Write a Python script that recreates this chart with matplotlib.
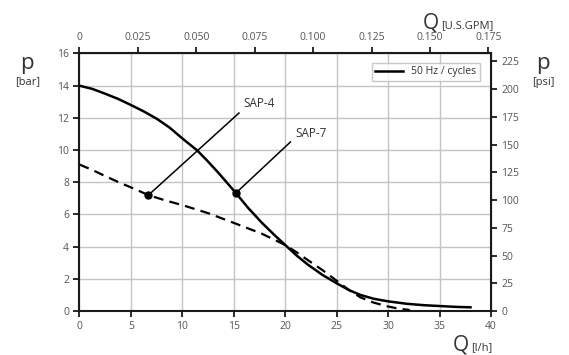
import numpy as np
import matplotlib
matplotlib.use("Agg")
from matplotlib import pyplot as plt

# pump curves (flow in l/h, pressure in bar)
q_solid = [0, 1.25, 2.5, 3.75, 5, 6.25, 7.5, 8.75, 10, 11.4, 12.4, 13.4, 14.3, 15.2,
           16.4, 17.7, 18.9, 20, 21.1, 22.2, 23.6, 25, 26.2, 27.3, 28.6, 30, 31.8,
           33.5, 35, 36.5, 38]
p_solid = [14.0, 13.8, 13.5, 13.18, 12.8, 12.4, 11.95, 11.4, 10.72, 10.0, 9.35, 8.66, 8.0, 7.33,
           6.4, 5.5, 4.75, 4.1, 3.45, 2.88, 2.25, 1.72, 1.3, 1.0, 0.76, 0.6, 0.45,
           0.36, 0.31, 0.26, 0.23]

q_dash = [0, 1.3, 2.6, 4, 5.3, 6.7, 8.3, 10, 12.5, 15.1, 17.7, 20, 21.1, 22.2,
          23.6, 25, 26.2, 27.3, 28.6, 30, 31, 32.1]
p_dash = [9.1, 8.75, 8.35, 7.95, 7.6, 7.2, 6.88, 6.58, 6.08, 5.45, 4.81, 4.1, 3.65, 3.16,
          2.55, 1.88, 1.3, 0.85, 0.52, 0.28, 0.15, 0.06]

# marked operating points
sap_names = ["SAP-4", "SAP-7"]
sap_q = [6.7, 15.2]
sap_p = [7.2, 7.33]

x_ticks = [0, 5, 10, 15, 20, 25, 30, 35, 40]
y_ticks = [0, 2, 4, 6, 8, 10, 12, 14, 16]
gpm_ticks = [0, 0.025, 0.05, 0.075, 0.1, 0.125, 0.15, 0.175]
gpm_labels = ["0", "0.025", "0.050", "0.075", "0.100", "0.125", "0.150", "0.175"]
psi_ticks = [0, 25, 50, 75, 100, 125, 150, 175, 200, 225]

LPH_PER_GPM = 227.125
PSI_PER_BAR = 14.5038

plt.rcParams['font.family'] = ['Open Sans', 'DejaVu Sans']
tick_col = '#555555'
dark = '#1a1a1a'
txt = '#333333'

fig = plt.figure(figsize=(5.69, 3.55), dpi=100)
ax = fig.add_axes([0.1397, 0.1239, 0.7233, 0.7254])

ax.plot(q_solid, p_solid, color='black', lw=1.8, label='50 Hz / cycles', zorder=3,
        solid_joinstyle='round')
ax.plot(q_dash, p_dash, color='black', lw=1.6, ls=(0, (4.5, 2.8)), zorder=3)

# leader lines to the labels
ax.plot(sap_q, sap_p, 'o', color='black', ms=5, zorder=4)
ax.plot([sap_q[0], 15.5], [sap_p[0], 12.3], color='black', lw=1.1, zorder=3)
ax.plot([sap_q[1], 20.5], [sap_p[1], 10.5], color='black', lw=1.1, zorder=3)
ax.text(15.9, 12.5, sap_names[0], fontsize=8.5, color=txt, ha='left', va='bottom')
ax.text(21.0, 10.6, sap_names[1], fontsize=8.5, color=txt, ha='left', va='bottom')

ax.set_xlim(0, 40)
ax.set_ylim(0, 16)
ax.set_xticks(x_ticks)
ax.set_yticks(y_ticks)
ax.grid(True, color='#c4c4c4', lw=1.0)
ax.set_axisbelow(True)
for s in ax.spines.values():
    s.set_color(dark)
    s.set_linewidth(1.5)
ax.tick_params(colors=dark, labelcolor=tick_col, labelsize=7.5, length=4, width=1.3)

top = ax.secondary_xaxis('top', functions=(lambda q: q / LPH_PER_GPM, lambda g: g * LPH_PER_GPM))
top.set_xticks(gpm_ticks)
top.set_xticklabels(gpm_labels)
top.tick_params(colors=dark, labelcolor=tick_col, labelsize=7.5, length=4, width=1.3)

right = ax.secondary_yaxis('right', functions=(lambda b: b * PSI_PER_BAR, lambda p: p / PSI_PER_BAR))
right.set_yticks(psi_ticks)
right.tick_params(colors=dark, labelcolor=tick_col, labelsize=7.5, length=4, width=1.3)

leg = ax.legend(loc='upper right', bbox_to_anchor=(0.985, 0.985), fontsize=7.5, frameon=True,
                fancybox=False, handlelength=2.6, borderpad=0.35, labelcolor=txt)
leg.get_frame().set_edgecolor('#bbbbbb')
leg.get_frame().set_linewidth(1.0)

# axis titles
fig.text(27 / 569, 1 - 64 / 355, 'p', fontsize=16, color=txt, ha='center', va='center')
fig.text(28 / 569, 1 - 82 / 355, '[bar]', fontsize=8, color=txt, ha='center', va='center')
fig.text(543 / 569, 1 - 64 / 355, 'p', fontsize=16, color=txt, ha='center', va='center')
fig.text(543 / 569, 1 - 82 / 355, '[psi]', fontsize=8, color=txt, ha='center', va='center')
fig.text(423 / 569, 1 - 28 / 355, 'Q', fontsize=15, color=txt, ha='left', va='baseline')
fig.text(441 / 569, 1 - 28 / 355, '[U.S.GPM]', fontsize=8, color=txt, ha='left', va='baseline')
fig.text(453 / 569, 1 - 350 / 355, 'Q', fontsize=15, color=txt, ha='left', va='baseline')
fig.text(471 / 569, 1 - 350 / 355, '[l/h]', fontsize=8, color=txt, ha='left', va='baseline')

fig.savefig('out.png', dpi=100)
